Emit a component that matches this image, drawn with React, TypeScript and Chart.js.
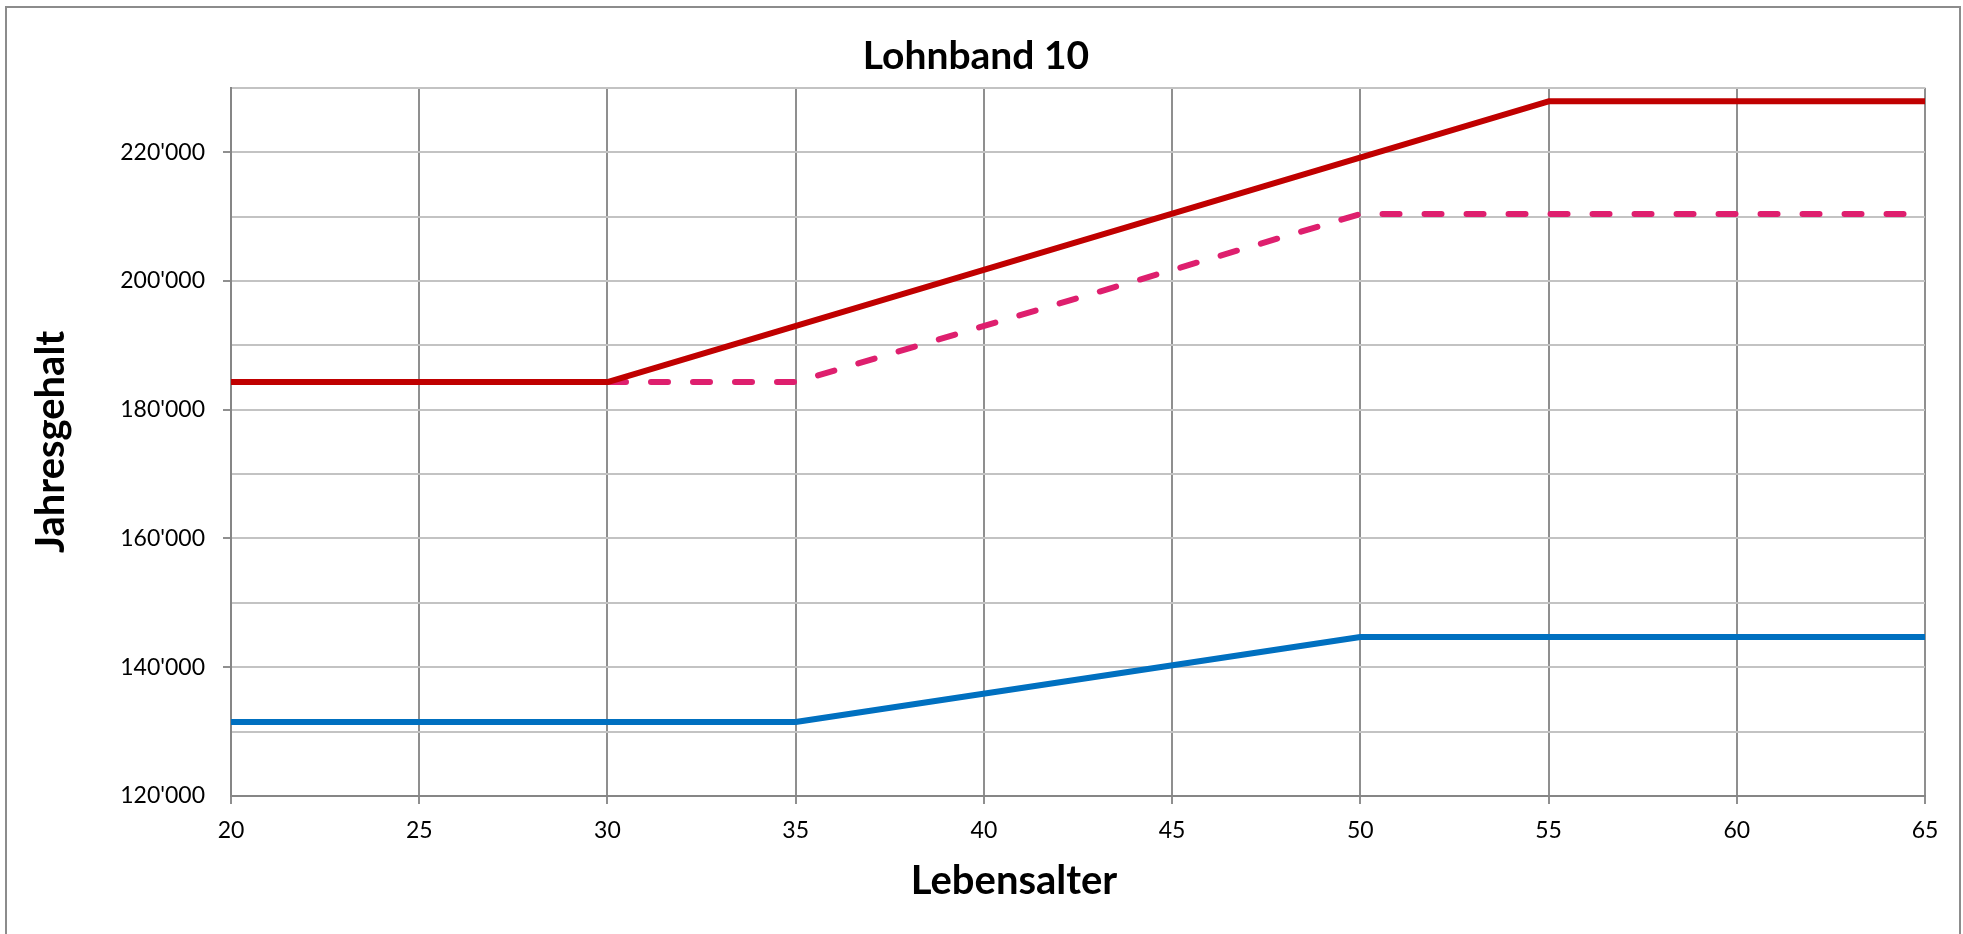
import React, { useEffect, useRef } from "react";
import { Chart, registerables } from "chart.js";

Chart.register(...registerables);

// ---- data ----
const chartTitle = "Lohnband 10";
const xAxisTitle = "Lebensalter";
const yAxisTitle = "Jahresgehalt";

const redAges = [20, 30, 55, 65];
const redValues = [184300, 184300, 227900, 227900];

const pinkAges = [20, 35, 50, 65];
const pinkValues = [184300, 184300, 210400, 210400];

const blueAges = [20, 35, 50, 65];
const blueValues = [131500, 131500, 144700, 144700];

const xMin = 20;
const xMax = 65;
const xStep = 5;
const yMin = 120000;
const yMax = 230000;
const yGridStep = 10000;
const yLabelStep = 20000;

const W = 1963;
const H = 934;

const fmt = (v: number) =>
  Math.round(v)
    .toString()
    .replace(/\B(?=(\d{3})+(?!\d))/g, "'");

const toPoints = (xs: number[], ys: number[]) => xs.map((x, i) => ({ x, y: ys[i] }));

const xTitlePlugin = {
  id: "xTitlePlugin",
  afterDraw(chart: any) {
    const { ctx, chartArea } = chart;
    ctx.save();
    ctx.font = "bold 40px Lato";
    ctx.fillStyle = "#000";
    ctx.textAlign = "center";
    ctx.textBaseline = "alphabetic";
    const cx = (chartArea.left + chartArea.right) / 2 - 64;
    ctx.fillText(xAxisTitle, cx, chartArea.bottom + 98);
    ctx.restore();
  },
};

export default function App() {
  const canvasRef = useRef<HTMLCanvasElement | null>(null);

  useEffect(() => {
    const canvas = canvasRef.current;
    if (!canvas) return;
    Chart.defaults.font.family = "Lato";
    Chart.defaults.color = "#000";
    const chart = new Chart(canvas, {
      type: "line",
      data: {
        datasets: [
          {
            label: "Maximum",
            data: toPoints(redAges, redValues),
            borderColor: "#C00000",
            borderWidth: 6,
            pointRadius: 0,
            tension: 0,
            fill: false,
            borderCapStyle: "round",
            borderJoinStyle: "round",
            order: 1,
          },
          {
            label: "Mittel",
            data: toPoints(pinkAges, pinkValues),
            borderColor: "#DE1F6E",
            borderWidth: 6,
            borderDash: [17, 25],
            borderCapStyle: "round",
            pointRadius: 0,
            tension: 0,
            fill: false,
            order: 2,
          },
          {
            label: "Minimum",
            data: toPoints(blueAges, blueValues),
            borderColor: "#0070C0",
            borderWidth: 6,
            pointRadius: 0,
            tension: 0,
            fill: false,
            borderJoinStyle: "round",
            order: 3,
          },
        ],
      },
      options: {
        animation: false,
        responsive: false,
        layout: { padding: { left: 27, right: 38, top: 0, bottom: 0 } },
        plugins: {
          legend: { display: false },
          tooltip: { enabled: false },
          title: {
            display: true,
            text: chartTitle,
            color: "#000",
            font: { family: "Lato", size: 39, weight: "bold", lineHeight: 1.2 },
            padding: { top: 33, bottom: 8 },
          },
        },
        scales: {
          x: {
            type: "linear",
            min: xMin,
            max: xMax,
            afterFit: (scale: any) => {
              scale.height = H - 796;
            },
            ticks: {
              stepSize: xStep,
              padding: 13,
              color: "#000",
              font: { family: "Lato", size: 23 },
              maxRotation: 0,
            },
            grid: {
              color: "#8f8f8f",
              lineWidth: 2,
              tickLength: 8,
              tickColor: "#8f8f8f",
              tickWidth: 2,
            },
            border: { display: true, color: "#868686", width: 2 },
          },
          y: {
            type: "linear",
            min: yMin,
            max: yMax,
            afterFit: (scale: any) => {
              scale.width = 231 - 27;
            },
            ticks: {
              stepSize: yGridStep,
              padding: 18,
              color: "#000",
              font: { family: "Lato", size: 23 },
              callback: (v: any) => (Number(v) % yLabelStep === 0 ? fmt(Number(v)) : ""),
            },
            grid: {
              color: "#c3c3c3",
              lineWidth: 2,
              tickLength: 8,
              tickWidth: 2,
              tickColor: (ctx: any) =>
                ctx.tick && ctx.tick.value % yLabelStep === 0 && ctx.tick.value !== yMin
                  ? "#8f8f8f"
                  : "rgba(0,0,0,0)",
            },
            border: { display: true, color: "#868686", width: 2 },
            title: {
              display: true,
              text: yAxisTitle,
              color: "#000",
              font: { family: "Lato", size: 40, weight: "bold", lineHeight: 1.2 },
              padding: { top: 0, bottom: 0 },
            },
          },
        },
      },
      plugins: [xTitlePlugin],
    } as any);
    return () => chart.destroy();
  }, []);

  return (
    <div
      style={{
        position: "fixed",
        left: 0,
        top: 0,
        width: W,
        height: H,
        background: "#fff",
        overflow: "hidden",
      }}
    >
      <div
        style={{
          position: "absolute",
          left: 5,
          top: 6,
          width: 1956,
          height: 1000,
          border: "2px solid #8c8c8c",
          boxSizing: "border-box",
        }}
      />
      <canvas
        ref={canvasRef}
        width={W}
        height={H}
        style={{ position: "absolute", left: 0, top: 0, width: W, height: H }}
      />
    </div>
  );
}
